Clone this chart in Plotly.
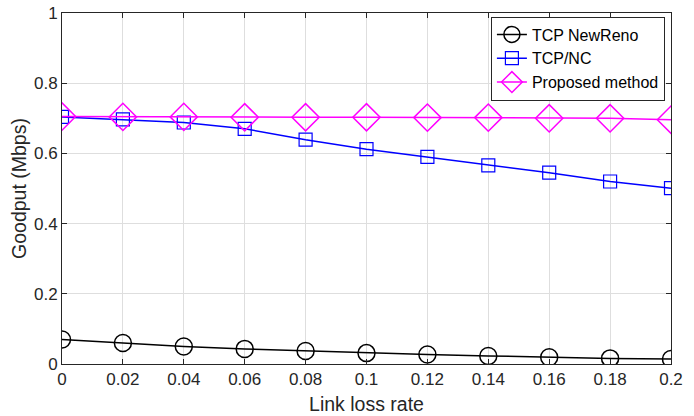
import plotly.graph_objects as go

loss_rate = [0, 0.02, 0.04, 0.06, 0.08, 0.1, 0.12, 0.14, 0.16, 0.18, 0.2]
newreno = [0.07, 0.06, 0.05, 0.043, 0.037, 0.031, 0.027, 0.023, 0.019, 0.016, 0.014]
tcp_nc = [0.704, 0.697, 0.688, 0.670, 0.639, 0.612, 0.590, 0.566, 0.545, 0.520, 0.501]
proposed = [0.705, 0.704, 0.704, 0.703, 0.703, 0.703, 0.702, 0.702, 0.700, 0.700, 0.696]

x_ticks = [0, 0.02, 0.04, 0.06, 0.08, 0.1, 0.12, 0.14, 0.16, 0.18, 0.2]
x_tick_labels = ["0", "0.02", "0.04", "0.06", "0.08", "0.1", "0.12", "0.14", "0.16", "0.18", "0.2"]
y_ticks = [0, 0.2, 0.4, 0.6, 0.8, 1]
y_tick_labels = ["0", "0.2", "0.4", "0.6", "0.8", "1"]

FONT = "Liberation Sans, Arial, sans-serif"

fig = go.Figure()
fig.add_trace(go.Scatter(x=loss_rate, y=newreno, name="TCP NewReno", mode="lines+markers",
                         line=dict(color="black", width=1.5),
                         marker=dict(symbol="circle-open", size=17, color="black", line=dict(width=1.5))))
fig.add_trace(go.Scatter(x=loss_rate, y=tcp_nc, name="TCP/NC", mode="lines+markers",
                         line=dict(color="#0000ff", width=1.5),
                         marker=dict(symbol="square-open", size=13, color="#0000ff", line=dict(width=1.2))))
fig.add_trace(go.Scatter(x=loss_rate, y=proposed, name="Proposed method", mode="lines+markers",
                         line=dict(color="#ff00ff", width=1.5),
                         marker=dict(symbol="diamond-open", size=21, color="#ff00ff", line=dict(width=1.5))))

axis_common = dict(showline=True, linecolor="#262626", linewidth=1, mirror="ticks",
                   ticks="inside", ticklen=5, tickcolor="#262626", automargin=False,
                   showgrid=True, gridcolor="#dedede", gridwidth=1, zeroline=False,
                   tickfont=dict(family=FONT, size=17, color="#262626"))

fig.update_xaxes(range=[0, 0.2], tickvals=x_ticks, ticktext=x_tick_labels,
                 title=dict(text="Link loss rate", font=dict(family=FONT, size=19.5, color="#262626"), standoff=8),
                 **axis_common)
fig.update_yaxes(range=[0, 1], tickvals=y_ticks, ticktext=y_tick_labels,
                 title=dict(text="Goodput (Mbps)", font=dict(family=FONT, size=19.5, color="#262626"), standoff=2),
                 **axis_common)

fig.update_layout(width=694, height=416, margin=dict(l=62, r=23, t=13, b=52, autoexpand=False),
                  plot_bgcolor="white", paper_bgcolor="white",
                  legend=dict(x=0.99, y=0.99, xanchor="right", yanchor="top",
                              bgcolor="white", bordercolor="#262626", borderwidth=1,
                              font=dict(family=FONT, size=16, color="black"),
                              tracegroupgap=0, itemwidth=30),
                  showlegend=True)

fig.write_html("out.html", config={"displayModeBar": False},
               post_script="document.body.style.margin='0';document.body.style.padding='0';")
